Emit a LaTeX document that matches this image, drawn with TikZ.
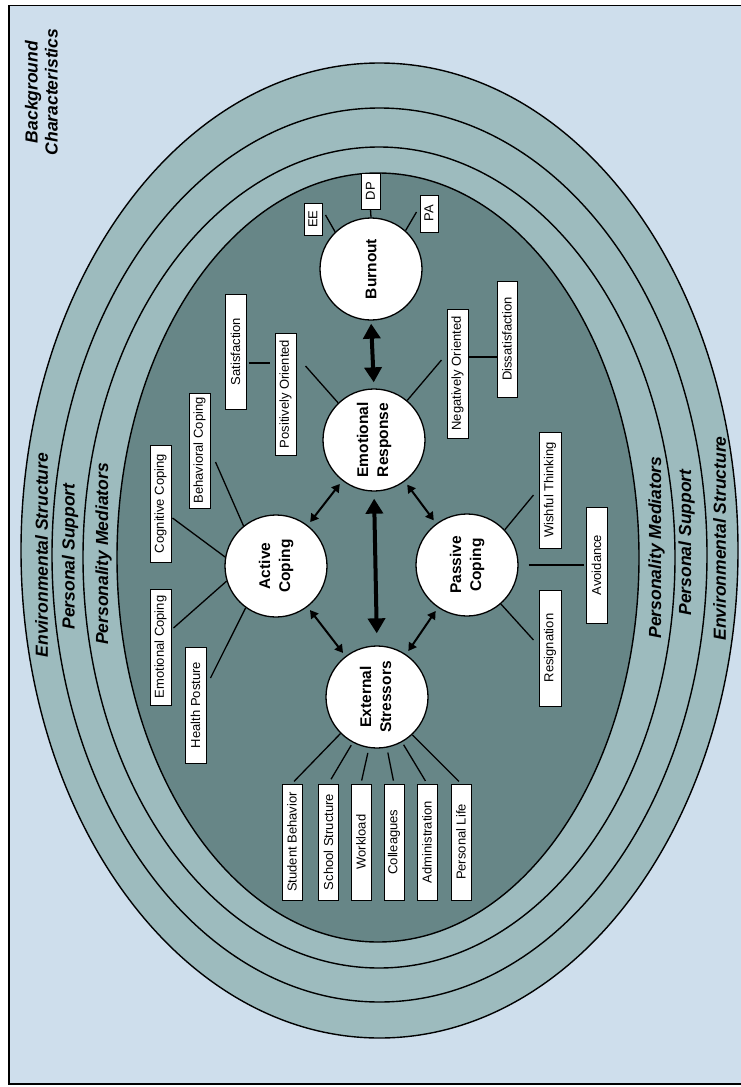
\documentclass[tikz,border=0pt]{standalone}
\usepackage{fontspec}
\setmainfont{Liberation Sans}
\usetikzlibrary{arrows.meta,calc}
\definecolor{bgblue}{RGB}{206,222,236}
\definecolor{ringc}{RGB}{157,187,190}
\definecolor{innerc}{RGB}{103,134,135}
\newcommand{\rtext}[1]{\rotatebox{90}{#1}}
\newcommand{\rtwo}[2]{\rotatebox{90}{\begin{tabular}{@{}c@{}}#1\\#2\end{tabular}}}
\begin{document}
\begin{tikzpicture}[x=1pt,y=-1pt,
  ring/.style={draw=black,line width=1.4pt,fill=ringc},
  hub/.style={circle,draw=black,line width=1.3pt,fill=white,minimum size=102pt,inner sep=0pt,font=\fontsize{15.5}{20}\selectfont\bfseries},
  tag/.style={draw=black,line width=1pt,fill=white,inner sep=0pt,font=\fontsize{13}{15}\selectfont},
  conn/.style={line width=1.3pt},
  bigarr/.style={line width=4pt,{Triangle[width=17pt,length=15pt]}-{Triangle[width=17pt,length=15pt]}},
  smallarr/.style={line width=2pt,{Triangle[width=9pt,length=8pt]}-{Triangle[width=9pt,length=8pt]}},
  lbl/.style={font=\fontsize{17.5}{20}\selectfont\bfseries\itshape,inner sep=0pt}]
\useasboundingbox (0,0) rectangle (741,1087);
\fill[white] (0,0) rectangle (741,1087);
\draw[fill=bgblue,line width=1.5pt] (9,5.5) rectangle (760,1084);
% rings
\draw[ring] (379.5,550.5) ellipse [x radius=358.5pt, y radius=487.5pt];
\draw[ring] (379.5,555) ellipse [x radius=327.5pt, y radius=447pt];
\draw[ring] (379,557.5) ellipse [x radius=296pt, y radius=410.5pt];
\draw[ring,fill=innerc] (378,557.5) ellipse [x radius=261pt, y radius=384.5pt];
% ring labels
\node[lbl,align=center] (bg) at (43.5,92) {\rtwo{Background}{Characteristics}};
\node[lbl] (envL) at (41.5,555) {\rtext{Environmental Structure}};
\node[lbl] (psL) at (70,556.5) {\rtext{Personal Support}};
\node[lbl] (pmL) at (103.5,554) {\rtext{Personality Mediators}};
\node[lbl] (pmR) at (656.5,547.5) {\rtext{Personality Mediators}};
\node[lbl] (psR) at (686.5,542.5) {\rtext{Personal Support}};
\node[lbl] (envR) at (719.5,538.5) {\rtext{Environmental Structure}};
% hubs
\node[hub] (bo) at (371,269) {\rtext{Burnout}};
\node[hub] (emo) at (374,440) {\rtwo{Emotional}{Response}};
\node[hub] (ac) at (276,566) {\rtwo{Active}{Coping}};
\node[hub] (pc) at (467,565) {\rtwo{Passive}{Coping}};
\node[hub] (es) at (377,697) {\rtwo{External}{Stressors}};
% tags
\node[tag,minimum width=18pt,minimum height=32pt] (ee) at (313,219) {\rtext{EE}};
\node[tag,minimum width=19pt,minimum height=36pt] (dp) at (370.5,191) {\rtext{DP}};
\node[tag,minimum width=18pt,minimum height=37pt] (pa) at (429,213.5) {\rtext{PA}};
\node[tag,minimum width=21pt,minimum height=115pt] (sat) at (235.5,351.5) {\rtext{Satisfaction}};
\node[tag,minimum width=21pt,minimum height=122pt] (pos) at (285.5,394) {\rtext{Positively Oriented}};
\node[tag,minimum width=21pt,minimum height=129pt] (neg) at (457.5,373.5) {\rtext{Negatively Oriented}};
\node[tag,minimum width=20pt,minimum height=116pt] (dis) at (507,339) {\rtext{Dissatisfaction}};
\node[tag,minimum width=21pt,minimum height=117pt] (cc) at (160.5,503.5) {\rtext{Cognitive Coping}};
\node[tag,minimum width=21pt,minimum height=115pt] (bc) at (199.5,450.5) {\rtext{Behavioral Coping}};
\node[tag,minimum width=21pt,minimum height=116pt] (ec) at (160.5,647) {\rtext{Emotional Coping}};
\node[tag,minimum width=21pt,minimum height=116pt] (hp) at (195.5,705) {\rtext{Health Posture}};
\node[tag,minimum width=22pt,minimum height=116pt] (wt) at (550,490) {\rtext{Wishful Thinking}};
\node[tag,minimum width=21pt,minimum height=116pt] (av) at (596.5,565) {\rtext{Avoidance}};
\node[tag,minimum width=22pt,minimum height=116pt] (rs) at (550,648) {\rtext{Resignation}};
\node[tag,minimum width=20pt,minimum height=116pt] (sb) at (292,842) {\rtext{Student Behavior}};
\node[tag,minimum width=20pt,minimum height=116pt] (ss) at (328.5,842) {\rtext{School Structure}};
\node[tag,minimum width=20pt,minimum height=116pt] (wl) at (361,842) {\rtext{Workload}};
\node[tag,minimum width=20pt,minimum height=116pt] (cl) at (394,842) {\rtext{Colleagues}};
\node[tag,minimum width=20pt,minimum height=116pt] (ad) at (427,842) {\rtext{Administration}};
\node[tag,minimum width=20pt,minimum height=116pt] (pl) at (461,842) {\rtext{Personal Life}};
% connectors: burnout
\draw[conn] (bo.134) -- ([xshift=3pt,yshift=4pt]ee.east);
\draw[conn] (bo.north) -- (dp.south);
\draw[conn] (bo.48) -- ([xshift=-3pt,yshift=1.5pt]pa.west);
% emotional response
\draw[conn] (emo.134) -- ([xshift=9pt,yshift=28pt]pos.east);
\draw[conn] (emo.50) -- ([xshift=-5pt,yshift=13.5pt]neg.west);
\draw[conn] ([xshift=2pt,yshift=-11.5pt]sat.east) -- ([xshift=-5pt,yshift=31pt]pos.west);
\draw[conn] ([yshift=16.5pt]neg.east) -- ([yshift=-18pt]dis.west);
% active coping
\draw[conn] (ac.129) -- ([xshift=5pt,yshift=-11.5pt]bc.east);
\draw[conn] (ac.170) -- ([xshift=1pt,yshift=-14.5pt]cc.east);
\draw[conn] (ac.197) -- ([xshift=2pt,yshift=19pt]ec.east);
\draw[conn] (ac.234) -- ([xshift=4pt,yshift=27pt]hp.east);
% passive coping
\draw[conn] (pc.43) -- ([xshift=-5pt,yshift=-5pt]wt.west);
\draw[conn,shorten <=10pt,shorten >=2pt] (pc.east) -- (av.west);
\draw[conn] (pc.311) -- ([xshift=-5pt,yshift=8pt]rs.west);
% external stressors
\draw[conn,shorten >=3pt] (es.225) -- (sb.north);
\draw[conn,shorten <=3pt,shorten >=5pt] (es.242) -- (ss.north);
\draw[conn,shorten <=5pt,shorten >=3pt] (es.261) -- (wl.north);
\draw[conn,shorten <=5pt,shorten >=3pt] (es.281) -- (cl.north);
\draw[conn,shorten <=3pt,shorten >=3pt] (es.299) -- (ad.north);
\draw[conn,shorten >=3pt] (es.313) -- (pl.north);
% arrows
\draw[bigarr,shorten <=3pt,shorten >=6pt] (bo.south) -- (emo.north);
\draw[bigarr,shorten <=7pt,shorten >=12pt] (emo.south) -- (es.north);
\draw[smallarr,shorten <=4pt,shorten >=4pt] (ac) -- (emo);
\draw[smallarr,shorten <=4pt,shorten >=4pt] (emo) -- (pc);
\draw[smallarr,shorten <=4pt,shorten >=4pt] (ac) -- (es);
\draw[smallarr,shorten <=4pt,shorten >=4pt] (pc) -- (es);
\end{tikzpicture}
\end{document}
